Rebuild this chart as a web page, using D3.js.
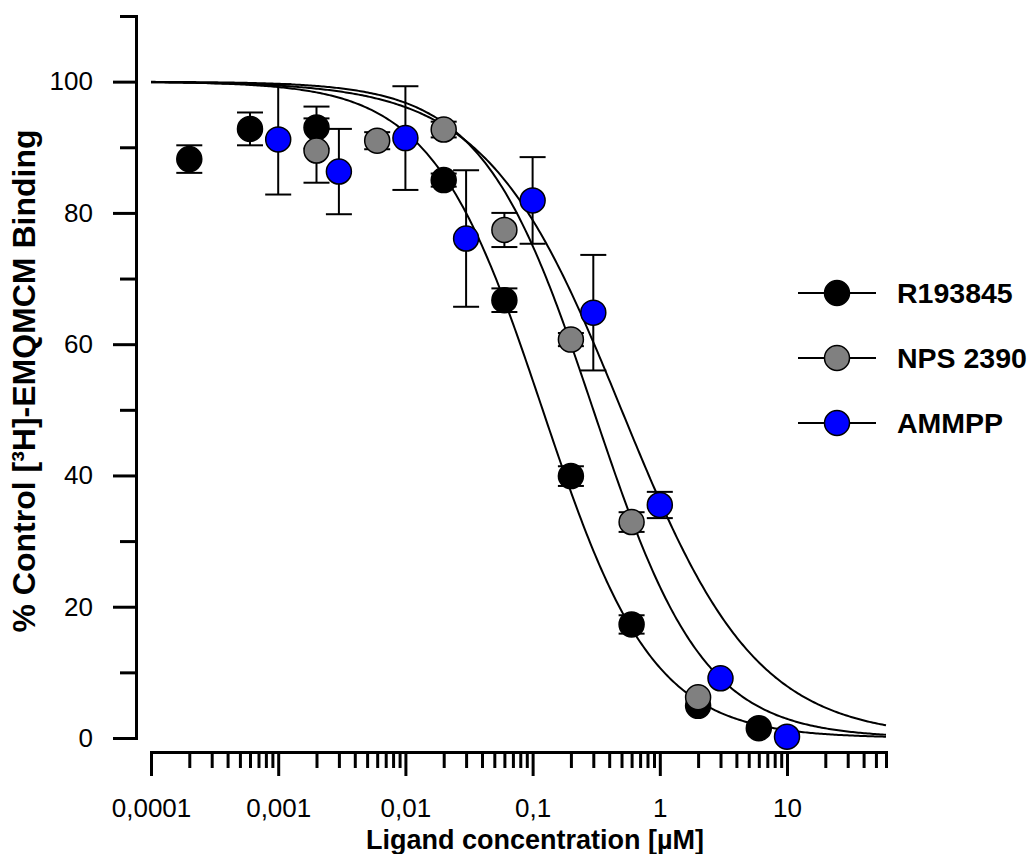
<!DOCTYPE html>
<html><head><meta charset="utf-8">
<script src="https://cdn.jsdelivr.net/npm/d3@7"></script>
<style>
body{margin:0;background:#fff}
svg{display:block}
text{font-family:"Liberation Sans",Arial,sans-serif;fill:#000}
</style>
</head><body>
<svg id="chart" width="1031" height="854"></svg>
<script>
// ---- data ----
const seriesNames  = ["R193845", "NPS 2390", "AMMPP"];
const seriesColors = ["#000000", "#808080", "#0000ff"];

const concR193845 = [0.0002, 0.0006, 0.002, 0.02, 0.06, 0.2, 0.6, 2, 6];
const valR193845  = [88.2, 92.8, 93.0, 85.0, 66.7, 39.9, 17.3, 4.9, 1.5];
const errR193845  = [2.1, 2.5, 3.2, 1.0, 1.8, 1.5, 1.4, 0, 0];

const concNPS2390 = [0.002, 0.006, 0.02, 0.06, 0.2, 0.6, 2];
const valNPS2390  = [89.5, 91.0, 92.7, 77.4, 60.7, 32.9, 6.2];
const errNPS2390  = [4.9, 1.3, 1.2, 2.6, 1.0, 1.5, 0];

const concAMMPP = [0.001, 0.003, 0.01, 0.03, 0.1, 0.3, 1, 3, 10];
const valAMMPP  = [91.2, 86.3, 91.4, 76.1, 81.9, 64.8, 35.5, 9.1, 0.2];
const errAMMPP  = [8.4, 6.5, 7.9, 10.4, 6.6, 8.8, 2.0, 0, 0];

// fitted one-site competition curves
const fitTop    = [100, 100, 100];
const fitBottom = [0, 0, 0];
const fitIC50   = [0.12, 0.30, 0.50];
const fitHill   = [1.0, 1.0, 0.82];

const xTickValues = [0.0001, 0.001, 0.01, 0.1, 1, 10];
const xTickLabels = ["0,0001", "0,001", "0,01", "0,1", "1", "10"];
const yTickValues = [0, 20, 40, 60, 80, 100];
const yMinorTicks = [10, 30, 50, 70, 90, 110];

const xTitle = "Ligand concentration [µM]";
const yTitle = "% Control [³H]-EMQMCM Binding";

// ---- chart ----
const svg = d3.select("#chart");
const x = d3.scaleLog().domain([0.0001, 60]).range([151, 886]);
const y = d3.scaleLinear().domain([0, 110]).range([738, 16]);

const series = [
  {c: concR193845, v: valR193845, e: errR193845},
  {c: concNPS2390, v: valNPS2390, e: errNPS2390},
  {c: concAMMPP,   v: valAMMPP,   e: errAMMPP}
];

// Y axis
const yAxisG = svg.append("g").attr("transform", "translate(136,0)");
yAxisG.call(d3.axisLeft(y).tickValues(yTickValues).tickSize(23).tickSizeOuter(0).tickPadding(20).tickFormat(d3.format("d")));
const yMinorG = svg.append("g").attr("transform", "translate(136,0)");
yMinorG.call(d3.axisLeft(y).tickValues(yMinorTicks).tickSize(16).tickSizeOuter(0).tickFormat(""));
yMinorG.select(".domain").remove();

// X axis
const xMinor = [];
for (let p = -4; p <= 1; p++) {
  for (let m = 2; m <= 9; m++) {
    const v = m * Math.pow(10, p);
    if (v <= 60.0001) xMinor.push(v);
  }
}
const xAxisG = svg.append("g").attr("transform", "translate(0,752)");
xAxisG.call(d3.axisBottom(x).tickValues(xTickValues).tickSize(24).tickSizeOuter(0).tickPadding(23)
  .tickFormat((d, i) => xTickLabels[i]));
const xMinorG = svg.append("g").attr("transform", "translate(0,752)");
xMinorG.call(d3.axisBottom(x).tickValues(xMinor).tickSize(16).tickSizeOuter(0).tickFormat(""));
xMinorG.select(".domain").remove();

svg.selectAll(".domain").attr("stroke", "#000").attr("stroke-width", 3).attr("stroke-linecap", "square");
svg.selectAll(".tick line").attr("stroke", "#000").attr("stroke-width", 3);
svg.selectAll(".tick text").attr("font-size", 26).attr("font-family", "Liberation Sans, Arial, sans-serif").attr("fill", "#000");

// Titles
svg.append("text")
  .attr("x", 535).attr("y", 849)
  .attr("text-anchor", "middle")
  .attr("font-size", 27).attr("font-weight", "bold")
  .text(xTitle);
svg.append("text")
  .attr("transform", "translate(35,381) rotate(-90)")
  .attr("text-anchor", "middle")
  .attr("font-size", 32).attr("font-weight", "bold")
  .text(yTitle);

// Curves
const curveX = d3.range(0, 401).map(i => Math.pow(10, Math.log10(0.0001) + i * (Math.log10(60) - Math.log10(0.0001)) / 400));
const line = d3.line().x(d => x(d[0])).y(d => y(d[1]));
for (let s = 0; s < 3; s++) {
  const pts = curveX.map(c => [c, fitBottom[s] + (fitTop[s] - fitBottom[s]) / (1 + Math.pow(c / fitIC50[s], fitHill[s]))]);
  svg.append("path").attr("d", line(pts)).attr("fill", "none").attr("stroke", "#000").attr("stroke-width", 2);
}

// Points with error bars
series.forEach((s, si) => {
  const g = svg.append("g");
  const data = s.c.map((c, i) => ({c, v: s.v[i], e: s.e[i]}));
  const eb = g.selectAll("g.eb").data(data.filter(d => d.e > 0)).join("g");
  eb.append("line").attr("x1", d => x(d.c)).attr("x2", d => x(d.c))
    .attr("y1", d => y(d.v - d.e)).attr("y2", d => y(d.v + d.e))
    .attr("stroke", "#000").attr("stroke-width", 2);
  eb.append("line").attr("x1", d => x(d.c) - 13).attr("x2", d => x(d.c) + 13)
    .attr("y1", d => y(d.v + d.e)).attr("y2", d => y(d.v + d.e))
    .attr("stroke", "#000").attr("stroke-width", 2);
  eb.append("line").attr("x1", d => x(d.c) - 13).attr("x2", d => x(d.c) + 13)
    .attr("y1", d => y(d.v - d.e)).attr("y2", d => y(d.v - d.e))
    .attr("stroke", "#000").attr("stroke-width", 2);
  g.selectAll("circle").data(data).join("circle")
    .attr("cx", d => x(d.c)).attr("cy", d => y(d.v)).attr("r", 12.5)
    .attr("fill", seriesColors[si]).attr("stroke", "#000").attr("stroke-width", 1.5);
});

// Legend
const legY = [293, 358, 423];
seriesNames.forEach((n, i) => {
  const g = svg.append("g").attr("transform", `translate(0,${legY[i]})`);
  g.append("line").attr("x1", 798).attr("x2", 876).attr("y1", 0).attr("y2", 0).attr("stroke", "#000").attr("stroke-width", 2);
  g.append("circle").attr("cx", 837).attr("cy", 0).attr("r", 12.5).attr("fill", seriesColors[i]).attr("stroke", "#000").attr("stroke-width", 1.5);
  g.append("text").attr("x", 897).attr("y", 0).attr("dy", "0.36em").attr("font-size", 28.5).attr("font-weight", "bold").text(n);
});
</script>
</body></html>
